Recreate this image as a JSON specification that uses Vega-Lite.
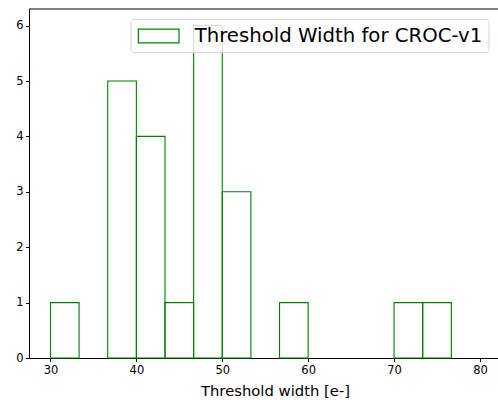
{
  "$schema": "https://vega.github.io/schema/vega-lite/v6.json",
  "autosize": "none",
  "padding": {"left": 29, "top": 9, "right": 0, "bottom": 42},
  "width": 469,
  "height": 349,
  "config": {
    "font": "DejaVu Sans",
    "view": {"stroke": null},
    "axis": {
      "grid": false,
      "domainColor": "#000000",
      "domainWidth": 1,
      "tickColor": "#000000",
      "tickSize": 3.5,
      "tickWidth": 1,
      "labelColor": "#000000",
      "labelFont": "DejaVu Sans",
      "labelFontSize": 11.5,
      "titleColor": "#000000",
      "titleFont": "DejaVu Sans",
      "titleFontWeight": "normal"
    }
  },
  "datasets": {
    "bins": [
      {"bin_start": 30.0, "bin_end": 33.333, "count": 1, "series": "Threshold Width for CROC-v1"},
      {"bin_start": 36.667, "bin_end": 40.0, "count": 5, "series": "Threshold Width for CROC-v1"},
      {"bin_start": 40.0, "bin_end": 43.333, "count": 4, "series": "Threshold Width for CROC-v1"},
      {"bin_start": 43.333, "bin_end": 46.667, "count": 1, "series": "Threshold Width for CROC-v1"},
      {"bin_start": 46.667, "bin_end": 50.0, "count": 6, "series": "Threshold Width for CROC-v1"},
      {"bin_start": 50.0, "bin_end": 53.333, "count": 3, "series": "Threshold Width for CROC-v1"},
      {"bin_start": 56.667, "bin_end": 60.0, "count": 1, "series": "Threshold Width for CROC-v1"},
      {"bin_start": 70.0, "bin_end": 73.333, "count": 1, "series": "Threshold Width for CROC-v1"},
      {"bin_start": 73.333, "bin_end": 76.667, "count": 1, "series": "Threshold Width for CROC-v1"}
    ],
    "frame": [{"top": 6.3}]
  },
  "layer": [
    {
      "data": {"name": "bins"},
      "mark": {"type": "rect", "filled": false, "strokeWidth": 1.1, "fill": null},
      "encoding": {
        "x": {
          "field": "bin_start",
          "type": "quantitative",
          "scale": {"domain": [27.5, 82.1], "nice": false, "zero": false, "padding": 0},
          "axis": {
            "values": [30, 40, 50, 60, 70, 80],
            "labelPadding": 3,
            "title": "Threshold width [e-]",
            "titleFontSize": 14.8,
            "titlePadding": 7,
            "titleX": 246,
            "titleAlign": "center"
          }
        },
        "x2": {"field": "bin_end"},
        "y": {
          "field": "count",
          "type": "quantitative",
          "scale": {"domain": [0, 6.3], "nice": false, "padding": 0},
          "axis": {
            "values": [0, 1, 2, 3, 4, 5, 6],
            "format": "d",
            "labelPadding": 2.5,
            "title": null
          }
        },
        "y2": {"datum": 0},
        "stroke": {
          "field": "series",
          "type": "nominal",
          "scale": {"range": ["#008000"]},
          "legend": {
            "title": null,
            "orient": "none",
            "legendX": 101.5,
            "legendY": 10,
            "fillColor": "rgba(255,255,255,0.8)",
            "strokeColor": "#d6d6d6",
            "cornerRadius": 3,
            "padding": 6,
            "symbolType": "M-2,-0.674H2V0.674H-2Z",
            "symbolSize": 414,
            "symbolOffset": 11.2,
            "symbolStrokeWidth": 1.2,
            "symbolFillColor": "transparent",
            "labelOffset": 25,
            "labelFont": "DejaVu Sans",
            "labelFontSize": 19.7,
            "labelColor": "#000000",
            "labelLimit": 0
          }
        }
      }
    },
    {
      "data": {"name": "frame"},
      "mark": {"type": "rule", "color": "#000000", "strokeWidth": 1},
      "encoding": {
        "y": {"field": "top", "type": "quantitative"}
      }
    }
  ]
}
